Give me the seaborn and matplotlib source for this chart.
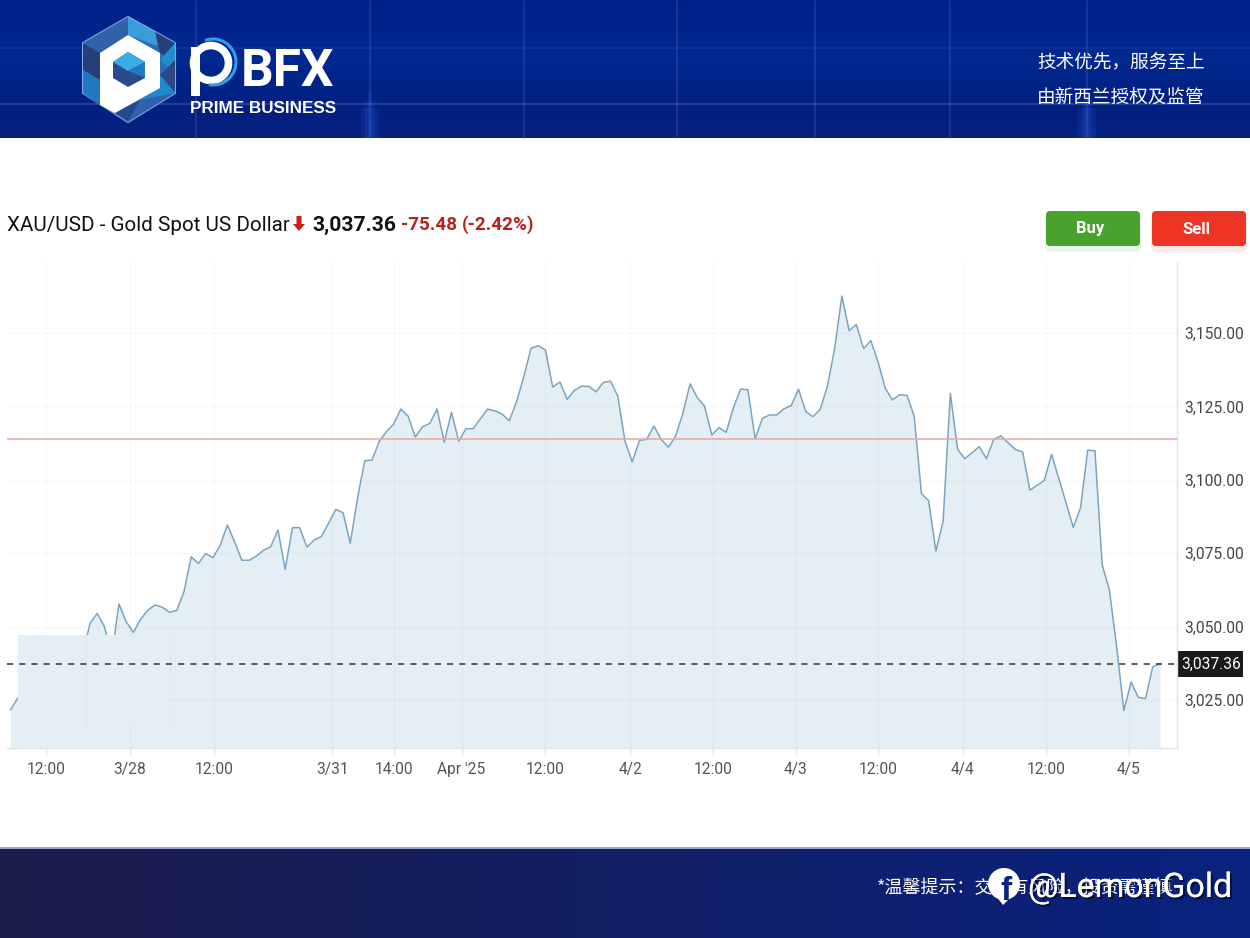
import numpy as np
import pandas as pd
import matplotlib
matplotlib.use('Agg')
import matplotlib.pyplot as plt
import matplotlib.patheffects as pe
from matplotlib.patches import Polygon, Rectangle, FancyBboxPatch, Circle, Arc
import seaborn as sns

# hourly-ish closes
price = [
    3021.6, 3025.6, 3029.0, 3033.0, 3031.0, 3036.0, 3034.0, 3039.0, 3037.0, 3042.0,
    3040.5, 3051.1, 3054.5, 3050.0, 3039.8, 3057.7, 3051.7, 3048.0, 3052.5, 3055.6,
    3057.4, 3056.6, 3054.9, 3055.5, 3061.9, 3073.8, 3071.5, 3074.9, 3073.5, 3077.6,
    3084.6, 3078.9, 3072.6, 3072.6, 3074.0, 3076.0, 3077.2, 3082.9, 3069.5, 3083.7,
    3083.7, 3077.1, 3079.5, 3080.7, 3085.2, 3089.9, 3088.8, 3078.4, 3093.7, 3106.5,
    3106.7, 3113.0, 3116.4, 3119.0, 3124.1, 3121.7, 3114.6, 3118.1, 3119.2, 3124.1,
    3112.8, 3123.0, 3113.2, 3117.4, 3117.4, 3120.8, 3124.1, 3123.5, 3122.4, 3120.1,
    3126.6, 3135.1, 3144.8, 3145.7, 3144.2, 3131.6, 3133.3, 3127.4, 3130.5, 3131.9,
    3131.8, 3130.0, 3133.2, 3133.6, 3128.5, 3113.2, 3106.1, 3113.4, 3113.8, 3118.3,
    3113.8, 3111.1, 3114.9, 3122.6, 3132.7, 3128.0, 3125.1, 3115.3, 3117.8, 3116.2,
    3124.6, 3130.9, 3130.7, 3113.9, 3120.9, 3122.1, 3122.1, 3124.2, 3125.3, 3130.9,
    3123.3, 3121.5, 3124.0, 3131.9, 3144.8, 3162.6, 3150.8, 3152.9, 3144.7, 3147.4,
    3140.2, 3131.2, 3127.2, 3129.0, 3128.8, 3121.7, 3095.3, 3092.9, 3075.7, 3085.9,
    3129.4, 3110.4, 3107.2, 3109.2, 3111.3, 3107.2, 3113.8, 3115.0, 3112.6, 3110.3,
    3109.5, 3096.5, 3098.1, 3099.8, 3108.7, 3100.5, 3092.2, 3083.8, 3090.4, 3110.1,
    3109.9, 3071.0, 3062.5, 3043.2, 3021.4, 3031.1, 3025.9, 3025.5, 3036.3, 3037.36,
]
x_tick_pos = [4.9, 16.5, 28.1, 44.5, 53.0, 62.4, 73.9, 85.7, 97.2, 108.6, 120.0, 131.7, 143.2, 154.7]
x_tick_labels = ['12:00', '3/28', '12:00', '3/31', '14:00', "Apr '25", '12:00', '4/2',
                 '12:00', '4/3', '12:00', '4/4', '12:00', '4/5']
y_ticks = [3025, 3050, 3075, 3100, 3125, 3150]
last_price = 3037.36
prev_close = 3113.8

FILL = '#e4eef5'
LINE = '#7ba5bf'
RED = '#b9221d'
SANS = ['Roboto', 'Liberation Sans', 'DejaVu Sans']
ARIAL = ['Liberation Sans', 'DejaVu Sans']
CJK = ['Noto Sans CJK SC', 'DejaVu Sans']

sns.set_theme(style='white')
plt.rcParams['font.family'] = SANS

fig = plt.figure(figsize=(12.5, 9.38), dpi=100, facecolor='white')

# page furniture, drawn in pixel coordinates
bg = fig.add_axes([0, 0, 1, 1], zorder=0)
bg.set_xlim(0, 1250)
bg.set_ylim(938, 0)
bg.axis('off')

# header band
head = np.array([[0.00, 0.12, 0.53], [0.00, 0.16, 0.56], [0.01, 0.12, 0.50], [0.03, 0.13, 0.50]])
head_img = np.dstack([np.interp(np.linspace(0, 1, 139), [0, 0.4, 0.8, 1], head[:, i])[:, None]
                      for i in range(3)])
bg.imshow(head_img, extent=[0, 1250, 138, 0], aspect='auto', zorder=1)
for xv in [196, 370, 524, 677, 815, 950, 1087]:
    bg.plot([xv, xv], [0, 138], color='#4f74d0', lw=1.2, alpha=0.3, zorder=2)
bg.plot([0, 1250], [48, 48], color='#4f74d0', lw=1.5, alpha=0.14, zorder=2)
bg.plot([0, 1250], [104, 104], color='#6f8fe0', lw=1.5, alpha=0.28, zorder=2)
for xv in [370, 1087]:
    for half, top in [(9, 108), (5, 100), (2, 92)]:
        bg.add_patch(Rectangle((xv - half, top), 2 * half, 138 - top, color='#2f5be0', alpha=0.16, lw=0, zorder=2))

# logo hexagon
hex_pts = [(128, 17), (175, 43), (175, 93), (128, 122), (83, 93), (83, 43)]
bg.add_patch(Polygon(hex_pts, closed=True, fc='#2a6fb5', ec='#7fa8f0', lw=1.5, zorder=3))
facets = [
    ([(128, 17), (175, 43), (155, 45), (128, 35)], '#3a9ddb'),
    ([(128, 17), (128, 35), (100, 53), (83, 43)], '#2f62a8'),
    ([(155, 32), (175, 43), (175, 60), (160, 53)], '#263f78'),
    ([(175, 43), (175, 72), (160, 60)], '#1f8fd0'),
    ([(175, 60), (175, 93), (160, 75)], '#2b4a85'),
    ([(175, 93), (160, 75), (160, 88), (140, 100)], '#1b8ad0'),
    ([(175, 93), (128, 122), (140, 100)], '#2f62a8'),
    ([(128, 122), (115, 113), (140, 100)], '#234a8c'),
    ([(83, 43), (100, 53), (100, 80), (83, 70)], '#263f78'),
    ([(83, 70), (100, 80), (100, 105), (83, 93)], '#1f78c0'),
    ([(83, 93), (100, 105), (115, 113), (128, 122)], '#2b5596'),
]
for pts, col in facets:
    bg.add_patch(Polygon(pts, closed=True, fc=col, ec='none', zorder=3))
p_outer = [(128, 35), (160, 53), (160, 88), (115, 113), (100, 105), (100, 53)]
bg.add_patch(Polygon(p_outer, closed=True, fc='white', ec='none', zorder=4))
cube = [(128, 52), (145, 62), (145, 78), (128, 87), (113, 78), (113, 62)]
bg.add_patch(Polygon(cube, closed=True, fc='#2b4a8c', ec='none', zorder=5))
bg.add_patch(Polygon([(128, 52), (145, 62), (128, 71), (113, 62)], closed=True, fc='#38ace6', ec='none', zorder=5))
bg.add_patch(Polygon([(145, 62), (145, 78), (128, 71)], closed=True, fc='#1f78c0', ec='none', zorder=5))

# wordmark
bg.add_patch(Rectangle((191, 47), 9, 49, fc='white', ec='none', zorder=4))
bg.add_patch(Arc((211, 63), 35, 35, theta1=0, theta2=360, ec='white', lw=5.5, zorder=4))
bg.add_patch(Arc((213, 62), 46, 46, theta1=-110, theta2=100, ec='#2f9fe6', lw=2.2, zorder=4))
bg.text(241, 86, 'BFX', color='white', fontsize=37, fontweight='bold', ha='left', va='baseline', zorder=5)
bg.text(190, 113, 'PRIME BUSINESS', color='white', fontsize=12.3, fontweight='bold',
        family=ARIAL, ha='left', va='baseline', zorder=5)

bg.text(1037, 62, '技术优先，服务至上', color='white', fontsize=13.4, family=CJK,
        ha='left', va='center', zorder=5)
bg.text(1037, 98, '由新西兰授权及监管', color='white', fontsize=13.4, family=CJK,
        ha='left', va='center', zorder=5)

# footer band
foot_l = np.array([0.106, 0.110, 0.290])
foot_r = np.array([0.035, 0.135, 0.500])
foot_img = np.linspace(foot_l, foot_r, 256)[None, :, :]
bg.imshow(foot_img, extent=[0, 1250, 938, 849], aspect='auto', zorder=1)
bg.plot([0, 1250], [848.5, 848.5], color='#8f94c8', lw=1.2, zorder=2)
bg.text(877, 888, '*温馨提示：交易有风险，投资需谨慎', color='white', fontsize=13, family=CJK,
        ha='left', va='center', zorder=5)

# watermark
bg.add_patch(Circle((1004, 884), 16, fc='white', ec='none', zorder=6))
bg.add_patch(Polygon([(996, 896), (1012, 896), (1003, 905)], closed=True, fc='white', ec='none', zorder=6))
bg.text(1006, 900, 'f', color='#0a2380', fontsize=24, fontweight='bold',
        family=ARIAL, ha='center', va='baseline', zorder=7)
bg.text(1028, 897, '@LemonGold', color='white', fontsize=24.4,
        ha='left', va='baseline', zorder=7,
        path_effects=[pe.withSimplePatchShadow(offset=(1.5, -1.5), shadow_rgbFace='black', alpha=0.55), pe.Normal()])

# title row
bg.text(7, 231, 'XAU/USD - Gold Spot US Dollar', color='#111111', fontsize=14.9, va='baseline', ha='left')
bg.add_patch(Polygon([(296.5, 216), (301.5, 216), (301.5, 224), (305, 224), (299, 231), (293, 224), (296.5, 224)],
                     closed=True, fc='#cc1f1a', ec='none'))
bg.text(312, 231, '3,037.36', color='#111111', fontsize=15.2, fontweight='bold', va='baseline', ha='left')
bg.text(401, 230, '-75.48', color=RED, fontsize=13.6, fontweight='bold', va='baseline', ha='left')
bg.text(462, 230, '(-2.42%)', color=RED, fontsize=13.6, fontweight='bold', va='baseline', ha='left')

# buy / sell buttons
for left, col, shadow, label in [(1046, '#4aa22e', '#4aa22e', 'Buy'), (1152, '#ee3424', '#ee3424', 'Sell')]:
    bg.add_patch(FancyBboxPatch((left - 1, 214), 96, 38, boxstyle='round,pad=0,rounding_size=6',
                                fc=shadow, ec='none', alpha=0.10))
    bg.add_patch(FancyBboxPatch((left, 211), 94, 35, boxstyle='round,pad=0,rounding_size=4',
                                fc=col, ec='none'))
    bg.text(left + 44, 229, label, color='white', fontsize=12, fontweight='bold', ha='center', va='center')

# the chart itself
df = pd.DataFrame({'step': np.arange(len(price)), 'price': price})

ax = fig.add_axes([7 / 1250, (938 - 748) / 938, 1170 / 1250, 486 / 938], zorder=2)
ax.patch.set_alpha(0)
ax.fill_between(df['step'], df['price'], 3000, color=FILL, lw=0, zorder=1)
sns.lineplot(data=df, x='step', y='price', color=LINE, lw=1.1, ax=ax, zorder=2)

# flat block hiding the early part of the line, as on the source image
ax.add_patch(Rectangle((1.08, 3017.2), 20.9, 3047.2 - 3017.2, fc=FILL, ec='none', zorder=3))
ax.add_patch(Rectangle((1.08, 3008.65), 10, 3047.2 - 3008.65, fc=FILL, ec='none', zorder=3))
ax.vlines([10.45, 22.0], 3015.5, 3047.2, color='black', alpha=0.02, lw=1, zorder=3.5)

ax.set_xlim(-0.48, 161.35)
ax.set_ylim(3008.65, 3174.2)
ax.set_xlabel('')
ax.set_ylabel('')

ax.set_xticks(x_tick_pos)
ax.set_xticklabels(x_tick_labels)
ax.set_yticks(y_ticks)
ax.set_yticklabels([f'{v:,.2f}' for v in y_ticks])
ax.yaxis.tick_right()
ax.tick_params(axis='x', length=5, width=1, color='#e4e4e4', labelcolor='#555555', labelsize=11.2, pad=5, bottom=True)
ax.tick_params(axis='y', length=4, width=1, color='#e4e4e4', labelcolor='#444444', labelsize=11.2, pad=1, right=True)
ax.grid(True, color='#000000', alpha=0.025, lw=1)
ax.set_axisbelow(False)

sns.despine(ax=ax, top=True, left=True, right=False, bottom=False)
for side in ['right', 'bottom']:
    ax.spines[side].set_color('#e4e4e4')
    ax.spines[side].set_linewidth(1)

ax.axhline(prev_close, color='#f0a3a3', lw=1.1, zorder=5)
ax.axhline(last_price, color='#333333', lw=1.1, ls=(0, (4, 4)), zorder=5)

# last price tag on the right scale
bg.add_patch(Rectangle((1177, 651), 66, 26, fc='#1a1a1a', ec='none', zorder=6))
bg.text(1211, 664.5, f'{last_price:,.2f}', color='white', fontsize=11.2, ha='center', va='center', zorder=7)

fig.savefig('out.png', dpi=100)
